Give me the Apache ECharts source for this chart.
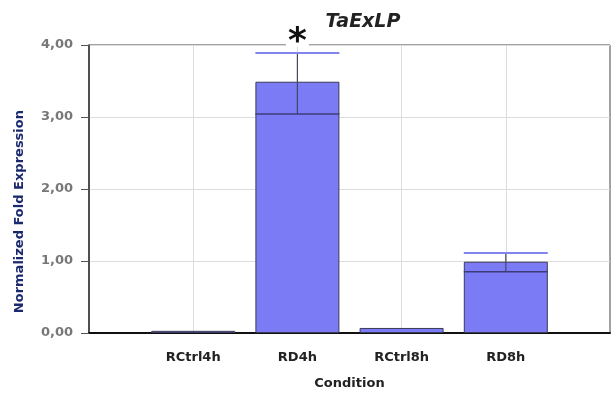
<!DOCTYPE html>
<html><head><meta charset="utf-8">
<script src="https://cdn.jsdelivr.net/npm/echarts@6/dist/echarts.min.js"></script>
<style>html,body{margin:0;padding:0;background:#fff}#c{width:615px;height:393px}</style>
</head><body><div id="c"></div>
<script>
const categories = ['RCtrl4h', 'RD4h', 'RCtrl8h', 'RD8h'];
const values = [0.03, 3.49, 0.07, 0.99];
const errLow = [null, 3.04, null, 0.85];
const errHigh = [null, 3.89, null, 1.11];
const signif = ['', '*', '', ''];
const yTicks = [0, 1, 2, 3, 4];

// padded category slots (one blank before, one after) as in the original plot
const slots = [''].concat(categories, ['']);
const barData = ['-'].concat(values, ['-']);
const errData = [];
categories.forEach((c, i) => {
  if (errLow[i] != null) errData.push([i + 1, errLow[i], errHigh[i], signif[i]]);
});

const chart = echarts.init(document.getElementById('c'), null, {renderer: 'canvas'});
const BW = 84;
chart.setOption({
  animation: false,
  backgroundColor: '#fff',
  title: {
    text: 'TaExLP', left: 358, top: 8, textAlign: 'center',
    textStyle: {fontFamily: 'DejaVu Sans', fontSize: 19, fontWeight: 'bold', fontStyle: 'italic', color: '#222'}
  },
  grid: {left: 89, right: 5, top: 45, bottom: 60, show: true, borderColor: '#444', borderWidth: 1,
    backgroundColor: 'transparent', containLabel: false, outerBoundsMode: 'none'},
  xAxis: {
    type: 'category', data: slots, boundaryGap: false,
    name: 'Condition', nameLocation: 'middle', nameGap: 44,
    nameTextStyle: {fontFamily: 'DejaVu Sans', fontSize: 13, fontWeight: 'bold', color: '#222'},
    axisLine: {show: true, lineStyle: {color: '#111', width: 2}},
    axisTick: {show: false},
    axisLabel: {interval: 0, margin: 18, fontFamily: 'DejaVu Sans', fontSize: 13, fontWeight: 'bold', color: '#222'},
    splitLine: {show: true, interval: (i, v) => v !== '', lineStyle: {color: '#dcdcdc', width: 1}}
  },
  yAxis: {
    type: 'value', min: yTicks[0], max: yTicks[yTicks.length - 1], interval: 1,
    axisLine: {show: true, lineStyle: {color: '#333', width: 1.5}},
    axisTick: {show: true, length: 8, lineStyle: {color: '#555'}},
    axisLabel: {margin: 16, fontFamily: 'DejaVu Sans', fontSize: 13, fontWeight: 'bold', color: '#777',
      formatter: v => v.toFixed(2).replace('.', ',')},
    splitLine: {show: true, lineStyle: {color: '#dcdcdc', width: 1}}
  },
  graphic: [{
    type: 'text', left: 13, top: 110, rotation: Math.PI / 2,
    style: {text: 'Normalized Fold Expression', fontFamily: 'DejaVu Sans', fontSize: 13, fontWeight: 'bold', fill: '#1b2a6e'}
  }],
  series: [{
    type: 'bar', data: barData, barWidth: BW,
    itemStyle: {color: '#7b7bf6', borderColor: '#3a3a5a', borderWidth: 1}
  }, {
    type: 'custom', data: errData, clip: false, z: 5,
    renderItem: (params, api) => {
      const x = api.value(0);
      const lo = api.coord([x, api.value(1)]);
      const hi = api.coord([x, api.value(2)]);
      const cx = lo[0];
      const children = [
        {type: 'line', shape: {x1: cx, y1: lo[1], x2: cx, y2: hi[1]}, style: {stroke: '#45456a', lineWidth: 1.2}},
        {type: 'line', shape: {x1: cx - BW / 2, y1: lo[1], x2: cx + BW / 2, y2: lo[1]}, style: {stroke: '#3c3c78', lineWidth: 1.5}},
        {type: 'line', shape: {x1: cx - BW / 2, y1: hi[1], x2: cx + BW / 2, y2: hi[1]}, style: {stroke: '#8484ee', lineWidth: 2}}
      ];
      const s = api.value(3);
      if (s) {
        children.push({type: 'text', x: cx, y: hi[1] - 6, style: {
          text: s, fontFamily: 'DejaVu Sans', fontSize: 36, fontWeight: 'bold', fill: '#111',
          align: 'center', verticalAlign: 'bottom', backgroundColor: '#fff', padding: [0, 2, -14, 2]
        }});
      }
      return {type: 'group', children};
    }
  }]
});
</script></body></html>
